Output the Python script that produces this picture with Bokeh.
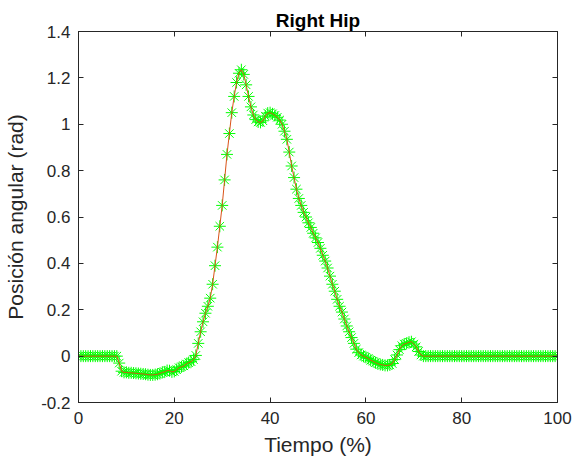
from bokeh.plotting import figure
from bokeh.models import Range1d, FixedTicker, LinearAxis, CustomJSTickFormatter, ColumnDataSource
from bokeh.embed import file_html
from bokeh.resources import INLINE

# Time (%) samples
tiempo = [
    0.0, 0.5, 1.0, 1.5, 2.0, 2.5, 3.0, 3.5, 4.0, 4.5,
    5.0, 5.5, 6.0, 6.5, 7.0, 7.5, 8.0, 8.5, 9.0, 9.5,
    10.0, 10.5, 11.0, 11.5, 12.0, 12.5, 13.0, 13.5, 14.0, 14.5,
    15.0, 15.5, 16.0, 16.5, 17.0, 17.5, 18.0, 18.5, 19.0, 19.5,
    20.0, 20.5, 21.0, 21.5, 22.0, 22.5, 23.0, 23.5, 24.0, 24.5,
    25.0, 25.5, 26.0, 26.5, 27.0, 27.5, 28.0, 28.5, 29.0, 29.5,
    30.0, 30.5, 31.0, 31.5, 32.0, 32.5, 33.0, 33.5, 34.0, 34.5,
    35.0, 35.5, 36.0, 36.5, 37.0, 37.5, 38.0, 38.5, 39.0, 39.5,
    40.0, 40.5, 41.0, 41.5, 42.0, 42.5, 43.0, 43.5, 44.0, 44.5,
    45.0, 45.5, 46.0, 46.5, 47.0, 47.5, 48.0, 48.5, 49.0, 49.5,
    50.0, 50.5, 51.0, 51.5, 52.0, 52.5, 53.0, 53.5, 54.0, 54.5,
    55.0, 55.5, 56.0, 56.5, 57.0, 57.5, 58.0, 58.5, 59.0, 59.5,
    60.0, 60.5, 61.0, 61.5, 62.0, 62.5, 63.0, 63.5, 64.0, 64.5,
    65.0, 65.5, 66.0, 66.5, 67.0, 67.5, 68.0, 68.5, 69.0, 69.5,
    70.0, 70.5, 71.0, 71.5, 72.0, 72.5, 73.0, 73.5, 74.0, 74.5,
    75.0, 75.5, 76.0, 76.5, 77.0, 77.5, 78.0, 78.5, 79.0, 79.5,
    80.0, 80.5, 81.0, 81.5, 82.0, 82.5, 83.0, 83.5, 84.0, 84.5,
    85.0, 85.5, 86.0, 86.5, 87.0, 87.5, 88.0, 88.5, 89.0, 89.5,
    90.0, 90.5, 91.0, 91.5, 92.0, 92.5, 93.0, 93.5, 94.0, 94.5,
    95.0, 95.5, 96.0, 96.5, 97.0, 97.5, 98.0, 98.5, 99.0, 99.5,
    100.0,
]

# Angular position (rad)
posicion = [
    0, 0, 0, 0, 0, 0, 0, 0, 0, 0,
    0, 0, 0, 0, 0, 0, 0, -0.03, -0.065, -0.07,
    -0.07, -0.072, -0.072, -0.073, -0.074, -0.075, -0.076, -0.077, -0.078, -0.08,
    -0.081, -0.081, -0.08, -0.078, -0.075, -0.07, -0.068, -0.062, -0.063, -0.068,
    -0.066, -0.058, -0.05, -0.046, -0.042, -0.034, -0.028, -0.024, -0.015, 0.003,
    0.055, 0.105, 0.148, 0.185, 0.215, 0.25, 0.31, 0.39, 0.47, 0.56,
    0.65, 0.76, 0.87, 0.96, 1.05, 1.12, 1.18, 1.22, 1.235, 1.215,
    1.17, 1.12, 1.075, 1.04, 1.02, 1.01, 1.008, 1.015, 1.035, 1.048,
    1.05, 1.045, 1.038, 1.03, 1.018, 1.0, 0.97, 0.935, 0.88, 0.82,
    0.77, 0.72, 0.68, 0.65, 0.62, 0.60, 0.575, 0.555, 0.53, 0.51,
    0.49, 0.465, 0.435, 0.41, 0.38, 0.345, 0.31, 0.28, 0.245, 0.215,
    0.19, 0.16, 0.13, 0.105, 0.08, 0.055, 0.03, 0.015, 0.005, 0.0,
    -0.005, -0.01, -0.018, -0.022, -0.028, -0.033, -0.036, -0.038, -0.04, -0.04,
    -0.038, -0.032, -0.015, 0.005, 0.028, 0.045, 0.052, 0.055, 0.06, 0.062,
    0.052, 0.04, 0.02, 0.005, 0, 0, 0, 0, 0, 0,
    0, 0, 0, 0, 0, 0, 0, 0, 0, 0,
    0, 0, 0, 0, 0, 0, 0, 0, 0, 0,
    0, 0, 0, 0, 0, 0, 0, 0, 0, 0,
    0, 0, 0, 0, 0, 0, 0, 0, 0, 0,
    0, 0, 0, 0, 0, 0, 0, 0, 0, 0,
    0,
]

x_ticks = [0, 20, 40, 60, 80, 100]
y_ticks = [-0.2, 0, 0.2, 0.4, 0.6, 0.8, 1.0, 1.2, 1.4]

title_text = "Right Hip"
x_label = "Tiempo (%)"
y_label = "Posición angular (rad)"

FONT = "Liberation Sans"
AX = "#262626"

src = ColumnDataSource(data=dict(x=tiempo, y=posicion))

p = figure(width=575, height=468,
           min_border_left=78, min_border_right=18,
           min_border_top=31, min_border_bottom=66,
           x_range=Range1d(0, 100), y_range=Range1d(-0.2, 1.4),
           output_backend="svg", toolbar_location=None,
           background_fill_color="white", border_fill_color="white")

p.grid.visible = False
p.outline_line_color = AX
p.outline_line_width = 1

fmt = CustomJSTickFormatter(code="return (Math.round(tick*10)/10).toString();")

for ax, ticks, lab in ((p.xaxis[0], x_ticks, x_label), (p.yaxis[0], y_ticks, y_label)):
    ax.ticker = FixedTicker(ticks=ticks)
    ax.formatter = fmt
    ax.axis_label = lab
    ax.axis_label_text_font = FONT
    ax.axis_label_text_font_size = "21px"
    ax.axis_label_text_font_style = "normal"
    ax.axis_label_text_color = AX
    ax.major_label_text_font = FONT
    ax.major_label_text_font_size = "17px"
    ax.major_label_text_color = AX
    ax.major_tick_in = 5
    ax.major_tick_out = 0
    ax.minor_tick_in = 0
    ax.minor_tick_out = 0
    ax.major_tick_line_color = AX
    ax.axis_line_color = AX

p.xaxis[0].major_label_standoff = 9
p.xaxis[0].axis_label_standoff = 6
p.yaxis[0].major_label_standoff = 8
p.yaxis[0].axis_label_standoff = 11

# mirrored ticks on top and right (no labels)
for loc, ticks in (("above", x_ticks), ("right", y_ticks)):
    a = LinearAxis(ticker=FixedTicker(ticks=ticks),
                   formatter=CustomJSTickFormatter(code="return '';"))
    a.major_label_text_font_size = "0px"
    a.major_label_text_color = None
    a.major_label_standoff = 0
    a.major_tick_in = 5
    a.major_tick_out = 0
    a.minor_tick_in = 0
    a.minor_tick_out = 0
    a.major_tick_line_color = AX
    a.axis_line_color = AX
    p.add_layout(a, loc)

p.title.text = title_text
p.title.text_font = FONT
p.title.text_font_size = "19px"
p.title.text_font_style = "bold"
p.title.text_color = "black"
p.title.align = "center"
p.title.standoff = 2

p.scatter("x", "y", source=src, marker="asterisk", size=12,
          line_color="#00ff00", line_width=1)
p.line("x", "y", source=src, line_color="#d95319", line_width=1)

open("out.html", "w").write(file_html(p, INLINE))
